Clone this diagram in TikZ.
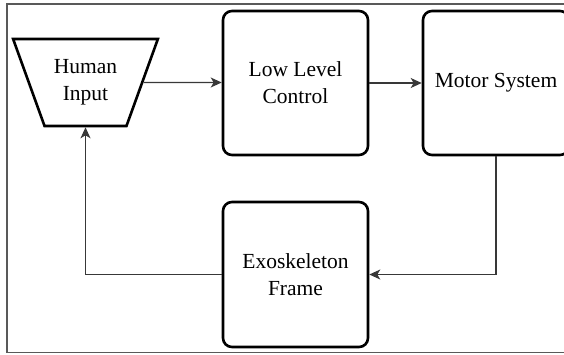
\documentclass[tikz,border=0pt]{standalone}
\usepackage{fontspec}
\setmainfont{Liberation Serif}
\usetikzlibrary{shapes.geometric,arrows.meta}
\begin{document}
\begin{tikzpicture}[x=1pt,y=-1pt,
  blk/.style={draw=black,line width=2.6pt,rounded corners=9pt,align=center,
    font=\fontsize{21.5}{27}\selectfont,inner sep=0pt},
  conn/.style={draw=black!78,line width=1.3pt},
  arr/.style={conn,-{Stealth[length=11pt,width=10pt,inset=3pt]}}]
\useasboundingbox (0,0) rectangle (564,354);
\draw[black!65,line width=1.3pt] (7,4) rectangle (590,352.5);
\node[blk,rounded corners=0pt,trapezium,shape border rotate=180,trapezium stretches=true,
  trapezium angle=62,minimum width=145pt,minimum height=87pt] (hi) at (85.5,82.5) {Human\\Input};
\node[blk,minimum width=145pt,minimum height=144pt] (llc) at (295.5,83) {Low Level\\Control};
\node[blk,minimum width=146pt,minimum height=144pt] (ms) at (496,83) {Motor System};
\node[blk,minimum width=145pt,minimum height=145pt] (ex) at (295.5,274.5) {Exoskeleton\\Frame};
\draw[arr] (hi) -- (hi -| llc.west);
\draw[arr] (llc.east) -- (ms.west);
\draw[arr] (ms.south) |- (ex.east);
\draw[arr] (ex.west) -| (hi.south);
\end{tikzpicture}
\end{document}
